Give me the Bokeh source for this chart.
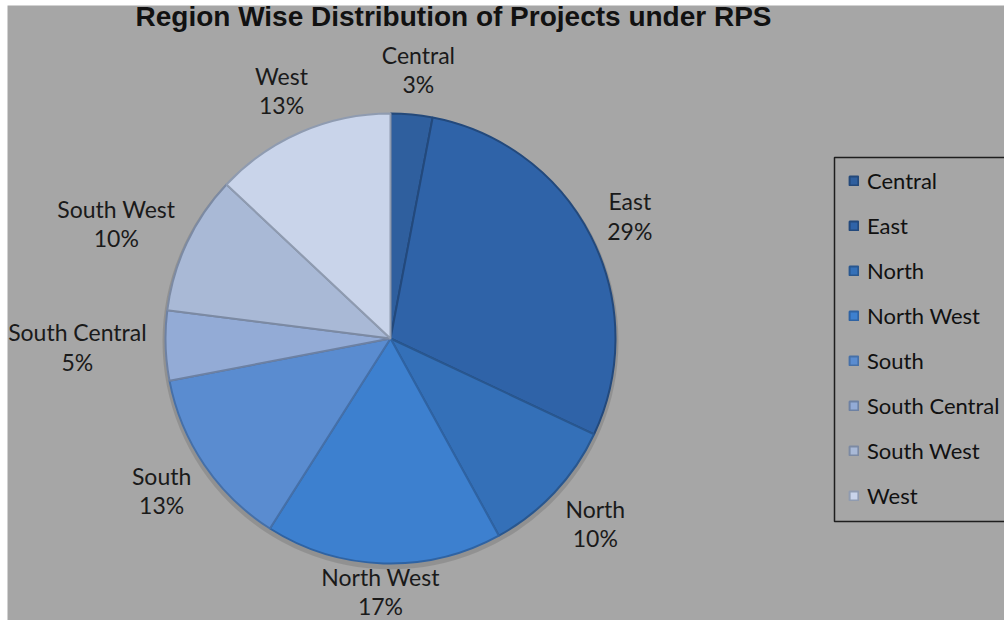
import math
from bokeh.plotting import figure
from bokeh.models import Range1d, Legend, LegendItem, Label, ColumnDataSource
from bokeh.core.properties import value
from bokeh.embed import file_html
from bokeh.resources import INLINE

# ---- data ----
regions = ["Central", "East", "North", "North West", "South",
           "South Central", "South West", "West"]
shares = [3, 29, 10, 17, 13, 5, 10, 13]
title_text = "Region Wise Distribution of Projects under RPS"

# ---- style ----
fills = ["#2f5f9e", "#2f63a8", "#3470b8", "#3d80cf", "#5a8cd0",
         "#93abd6", "#a9b9d6", "#c9d4ea"]
edges = ["#24497a", "#23497c", "#29578f", "#2f63a3", "#4670a8",
         "#6d81a3", "#7c8aa3", "#8f9bb0"]
BG = "#a6a6a6"
W, H = 1004, 620
LEFT, TOP = 7, 5
FW, FH = W - LEFT, H - TOP
CX, CY, R = 383, 282, 225
FONT = "Lato"

p = figure(width=W, height=H, output_backend="svg", toolbar_location=None,
           x_range=Range1d(0, FW), y_range=Range1d(0, FH),
           min_border_left=LEFT, min_border_top=TOP,
           min_border_right=0, min_border_bottom=0)
p.axis.visible = False
p.grid.visible = False
p.outline_line_color = None
p.background_fill_color = BG
p.border_fill_color = "white"

total = float(sum(shares))
starts, ends, mids = [], [], []
cum = 0.0
for v in shares:
    a0 = cum / total * 2 * math.pi
    cum += v
    a1 = cum / total * 2 * math.pi
    starts.append(math.pi / 2 - a0)
    ends.append(math.pi / 2 - a1)
    mids.append((a0 + a1) / 2)

# soft shadow
p.circle(x=[CX], y=[CY - 3], radius=R + 3, fill_color="#000000",
         fill_alpha=0.12, line_color=None)

src = ColumnDataSource(dict(x=[CX] * len(shares), y=[CY] * len(shares),
                            start=starts, end=ends, fill=fills, edge=edges,
                            region=regions, share=shares))
wr = p.wedge(x="x", y="y", radius=R, start_angle="start", end_angle="end",
             direction="clock", fill_color="fill", line_color="edge",
             line_width=2, source=src)

# data labels (best-fit outside the slice mid-angle)
lx, ly, lt = [], [], []
RL, HL, CW = 245, 50, 10.5
for reg, v, a in zip(regions, shares, mids):
    s, c = math.sin(a), math.cos(a)
    w = max(len(reg), 3) * CW
    ax, ay = CX + RL * s, CY + RL * c
    fx = max(-1.0, min(1.0, 1.4 * s))
    lx.append(ax + fx * w / 2)
    ly.append(max(ay + c * HL / 2, 29))
    lt.append(f"{reg}\n{v}%")
p.text(x=lx, y=ly, text=lt, text_align="center", text_baseline="middle",
       text_font=value(FONT), text_font_size="23px", text_color="#1a1a1a",
       text_line_height=1.05)

# title
p.add_layout(Label(x=446, y=604, text=title_text, text_align="center",
                   text_baseline="alphabetic", text_font="Liberation Sans",
                   text_font_style="bold", text_font_size="28px",
                   text_color="#111111"))

# legend box
p.quad(left=[827], right=[1010], top=[463], bottom=[99], fill_color=None,
       line_color="#1e1e1e", line_width=1.5)

items = [LegendItem(label=reg, renderers=[wr], index=i)
         for i, reg in enumerate(regions)]
legend = Legend(items=items, location=(841, 102), padding=0, spacing=0,
                margin=0, label_height=45, glyph_width=11, glyph_height=11,
                label_standoff=8, border_line_alpha=0,
                background_fill_alpha=0, label_text_font=FONT,
                label_text_font_size="22px", label_text_color="#111111")
p.add_layout(legend)

open("out.html", "w").write(file_html(p, INLINE))
